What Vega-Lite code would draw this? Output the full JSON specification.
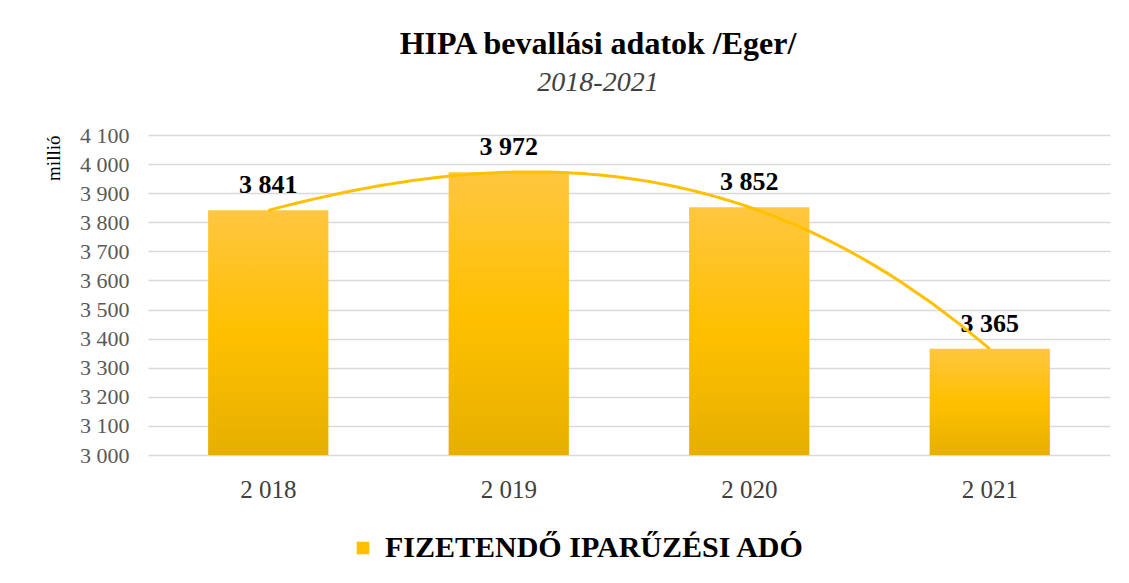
{
  "$schema": "https://vega.github.io/schema/vega-lite/v6.json",
  "autosize": "none",
  "width": 962,
  "height": 320,
  "padding": {"left": 148, "top": 135, "right": 19, "bottom": 128},
  "background": "white",
  "config": {
    "locale": {"number": {"decimal": ",", "thousands": " ", "grouping": [3], "currency": ["", ""]}},
    "view": {"stroke": null},
    "font": "Liberation Serif"
  },
  "title": {
    "text": "HIPA bevallási adatok /Eger/",
    "subtitle": "2018-2021",
    "anchor": "middle",
    "frame": "group",
    "dx": -31,
    "offset": 26,
    "font": "Liberation Serif",
    "fontSize": 32,
    "fontWeight": "bold",
    "color": "#000000",
    "subtitleFont": "Liberation Serif",
    "subtitleFontSize": 28,
    "subtitleFontStyle": "italic",
    "subtitleColor": "#404040",
    "subtitlePadding": 8
  },
  "data": {
    "values": [
      {"ev": 2018, "ertek": 3841, "sor": "FIZETENDŐ IPARŰZÉSI ADÓ"},
      {"ev": 2019, "ertek": 3972, "sor": "FIZETENDŐ IPARŰZÉSI ADÓ"},
      {"ev": 2020, "ertek": 3852, "sor": "FIZETENDŐ IPARŰZÉSI ADÓ"},
      {"ev": 2021, "ertek": 3365, "sor": "FIZETENDŐ IPARŰZÉSI ADÓ"}
    ]
  },
  "encoding": {
    "y": {
      "field": "ertek", "type": "quantitative",
      "scale": {"domain": [3000, 4100], "zero": false, "nice": false},
      "axis": {
        "title": "millió", "titleFont": "Liberation Serif", "titleFontSize": 19, "titleFontWeight": "normal",
        "titleColor": "#000000", "titleAnchor": "end", "titlePadding": 16,
        "values": [3000, 3100, 3200, 3300, 3400, 3500, 3600, 3700, 3800, 3900, 4000, 4100],
        "format": ",d", "labelFont": "Liberation Serif", "labelFontSize": 22, "labelColor": "#595959",
        "labelPadding": 19, "labelOverlap": false, "domain": false, "ticks": false,
        "grid": true, "gridColor": "#d9d9d9", "gridWidth": 1.5
      }
    }
  },
  "layer": [
    {
      "encoding": {
        "x": {
          "field": "ev", "type": "ordinal",
          "scale": {"paddingInner": 0.5, "paddingOuter": 0.25},
          "axis": {
            "title": null, "domain": false, "ticks": false, "labelAngle": 0,
            "labelExpr": "format(datum.value, ',d')",
            "labelFont": "Liberation Serif", "labelFontSize": 25, "labelColor": "#404040",
            "labelPadding": 22
          }
        }
      },
      "layer": [
        {
          "mark": {"type": "bar",
            "color": {"gradient": "linear", "x1": 0, "y1": 0, "x2": 0, "y2": 1,
              "stops": [{"offset": 0, "color": "#FFC640"}, {"offset": 0.5, "color": "#FFC000"}, {"offset": 1, "color": "#E6B000"}]}},
          "encoding": {"y2": {"datum": 3000}}
        },
        {
          "mark": {"type": "point", "shape": "square", "filled": true, "opacity": 0},
          "encoding": {
            "color": {
              "field": "sor", "type": "nominal",
              "scale": {"range": ["#FFC000"]},
              "legend": {
                "title": null, "orient": "none", "legendX": 200, "legendY": 398,
                "direction": "horizontal", "symbolType": "square", "symbolSize": 160, "symbolOpacity": 1,
                "symbolStrokeWidth": 0, "labelFont": "Liberation Serif", "labelFontSize": 30,
                "labelFontWeight": "bold", "labelColor": "#000000", "labelLimit": 700, "labelOffset": 7
              }
            }
          }
        },
        {
          "mark": {"type": "text", "baseline": "bottom", "dy": -12, "font": "Liberation Serif", "fontSize": 26, "fontWeight": "bold", "color": "#000000"},
          "encoding": {
            "text": {"field": "ertek", "type": "quantitative", "format": ",d"}
          }
        }
      ]
    },
    {
      "transform": [
        {"regression": "ertek", "on": "ev", "method": "poly", "order": 3, "extent": [2018, 2021]}
      ],
      "mark": {"type": "line", "color": "#FFC000", "strokeWidth": 3},
      "encoding": {
        "x": {"field": "ev", "type": "quantitative", "scale": {"domain": [2017.5, 2021.5], "zero": false, "nice": false}, "axis": null}
      }
    }
  ],
  "resolve": {"scale": {"x": "independent"}}
}
